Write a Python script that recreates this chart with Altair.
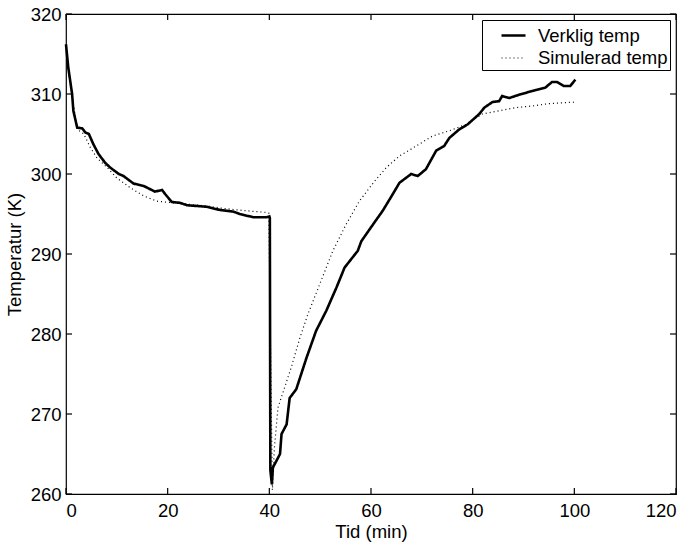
import altair as alt
import pandas as pd

# Verklig temp (measured)
t_real = [0, 0.45, 1.2, 1.45, 2.2, 3.2, 3.8, 4.5, 5.4, 6.4, 7.7, 8.7, 10.4, 11.3, 13.3,
          15.3, 17.5, 18.9, 19.5, 20.8, 22.4, 23.8, 27.7, 30.3, 32.9, 34.2, 36.8, 39.4,
          40.0, 40.1, 40.2, 40.5, 40.7, 42.1, 42.4, 43.4, 44.0, 45.3, 47.3, 49.2, 51.2,
          53.2, 54.8, 57.4, 58.1, 60.4, 62.3, 64.3, 65.6, 67.9, 69.2, 70.8, 72.8, 74.4,
          75.4, 77.4, 79.0, 81.3, 82.3, 83.9, 85.2, 85.8, 87.2, 89.1, 92.4, 94.3, 95.6,
          96.6, 97.9, 99.2, 100.2]
T_real = [316.2, 313.3, 310.0, 307.9, 305.8, 305.7, 305.2, 305.0, 303.7, 302.5, 301.4,
          300.8, 300.0, 299.75, 298.8, 298.5, 297.8, 298.0, 297.5, 296.5, 296.4, 296.1,
          295.9, 295.5, 295.3, 295.0, 294.6, 294.6, 294.7, 294.5, 263.0, 261.2, 263.3,
          265.0, 267.5, 268.7, 272.0, 273.1, 277.0, 280.4, 282.9, 285.8, 288.3, 290.4,
          291.6, 293.7, 295.4, 297.5, 298.9, 300.0, 299.75, 300.6, 302.9, 303.5, 304.5,
          305.6, 306.2, 307.5, 308.3, 309.0, 309.1, 309.75, 309.5, 309.9, 310.5, 310.8,
          311.5, 311.5, 311.0, 311.0, 311.8]

# Simulerad temp (simulated)
t_sim = [0, 0.45, 1.2, 2.2, 3.5, 4.8, 6.1, 8.1, 10.0, 12.6, 15.3, 17.9, 21.1, 24.4,
         27.7, 30.9, 35.5, 39.4, 39.9, 40.6, 41.0, 41.7, 43.0, 44.3, 46.0, 47.6, 49.9,
         52.5, 55.1, 57.7, 60.7, 63.0, 65.6, 68.9, 72.1, 75.4, 78.7, 81.9, 85.2, 88.5,
         91.7, 95.0, 100.5]
T_sim = [316.2, 313.0, 309.8, 305.6, 305.0, 303.3, 302.0, 300.8, 299.5, 298.3, 297.25,
         296.6, 296.4, 296.2, 296.0, 295.7, 295.4, 295.2, 295.1, 260.5, 265.8, 270.8,
         273.3, 275.8, 279.5, 282.5, 286.2, 290.4, 293.7, 296.6, 299.1, 300.8, 302.25,
         303.5, 304.75, 305.4, 306.2, 307.5, 307.9, 308.3, 308.5, 308.8, 309.0]

series_names = ["Verklig temp", "Simulerad temp"]
x_ticks = [0, 20, 40, 60, 80, 100, 120]
y_ticks = [260, 270, 280, 290, 300, 310, 320]

df = pd.concat([
    pd.DataFrame({"t": t_real, "T": T_real, "series": series_names[0], "order": range(len(t_real))}),
    pd.DataFrame({"t": t_sim, "T": T_sim, "series": series_names[1], "order": range(len(t_sim))}),
])

W, H = 610, 480
TL = 6  # inward tick length
FONT = "Liberation Sans"
FS = 18.5

xscale = alt.Scale(domain=[0, 120], nice=False, zero=False)
yscale = alt.Scale(domain=[260, 320], nice=False, zero=False)

main_x = alt.Axis(values=x_ticks, title="Tid (min)", orient="bottom", ticks=False,
                  domain=False, grid=False, labelPadding=7, titlePadding=3)
main_y = alt.Axis(values=y_ticks, title="Temperatur (K)", orient="left", ticks=False,
                  domain=False, grid=False, labelPadding=5, titlePadding=6)

LABEL_EXPR = "datum.label + '\u00a0\u00a0\u00a0'"

def leg():
    return alt.Legend(title=None, labelExpr=LABEL_EXPR)

lines = alt.Chart(df).mark_line().encode(
    x=alt.X("t:Q", scale=xscale, axis=main_x),
    y=alt.Y("T:Q", scale=yscale, axis=main_y),
    order="order:Q",
    color=alt.Color("series:N", scale=alt.Scale(domain=series_names, range=["black", "black"]),
                    legend=leg()),
    strokeDash=alt.StrokeDash("series:N", scale=alt.Scale(domain=series_names, range=[[1, 0], [1, 3]]),
                              legend=leg()),
    strokeWidth=alt.StrokeWidth("series:N", scale=alt.Scale(domain=series_names, range=[2.6, 1.2]),
                                legend=leg()),
)

xt = pd.DataFrame({"tick": x_ticks})
yt = pd.DataFrame({"tick": y_ticks})
rule_style = dict(color="black", strokeWidth=1.2)

xb = alt.Chart(xt).mark_rule(**rule_style).encode(
    x=alt.X("tick:Q", scale=xscale), y=alt.value(H), y2=alt.value(H - TL))
xtp = alt.Chart(xt).mark_rule(**rule_style).encode(
    x=alt.X("tick:Q", scale=xscale), y=alt.value(0), y2=alt.value(TL))
yl = alt.Chart(yt).mark_rule(**rule_style).encode(
    y=alt.Y("tick:Q", scale=yscale), x=alt.value(0), x2=alt.value(TL))
yr = alt.Chart(yt).mark_rule(**rule_style).encode(
    y=alt.Y("tick:Q", scale=yscale), x=alt.value(W), x2=alt.value(W - TL))

chart = alt.layer(xb, xtp, yl, yr, lines).properties(
    width=W, height=H,
    autosize=alt.AutoSizeParams(type="none"),
    padding={"left": 66, "top": 14, "right": 19, "bottom": 55},
    background="white",
).configure_view(
    stroke="black", strokeWidth=1.2
).configure_axis(
    labelFont=FONT, titleFont=FONT, labelFontSize=FS, titleFontSize=FS,
    labelColor="black", titleColor="black", titleFontWeight="normal",
).configure_legend(
    orient="top-right", offset=6, strokeColor="black", fillColor="white",
    padding=2, labelFont=FONT, labelFontSize=FS, labelColor="black",
    symbolType="stroke", symbolSize=576, symbolOffset=16, labelOffset=11,
    rowPadding=-2, symbolStrokeColor="black",
)

chart.save("out.html", embed_options={"renderer": "svg", "actions": False})
